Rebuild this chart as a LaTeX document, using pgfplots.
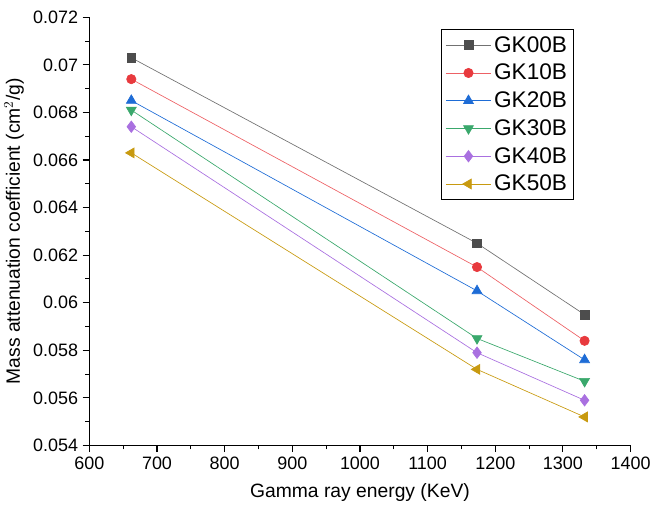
\documentclass[border=0pt]{standalone}
\usepackage{fontspec}
\setmainfont{Liberation Sans}
\usepackage{pgfplots}
\pgfplotsset{compat=1.18}

\definecolor{c0}{RGB}{77,77,77}
\definecolor{c1}{RGB}{232,58,62}
\definecolor{c2}{RGB}{30,108,214}
\definecolor{c3}{RGB}{58,168,108}
\definecolor{c4}{RGB}{169,112,224}
\definecolor{c5}{RGB}{200,154,16}

\begin{document}
\begin{tikzpicture}
\begin{axis}[
  scale only axis,
  width=407pt, height=322pt,
  xmin=600, xmax=1400,
  ymin=0.054, ymax=0.072,
  xtick={600,700,...,1400},
  ytick={0.054,0.056,...,0.072},
  minor tick num=1,
  axis x line=bottom, axis y line=left,
  axis line style={-, line width=1pt},
  tick align=outside,
  major tick length=5pt, minor tick length=3pt,
  every tick/.style={black, line width=0.8pt},
  scaled y ticks=false,
  yticklabel style={/pgf/number format/fixed, /pgf/number format/precision=3},
  xticklabel style={/pgf/number format/1000 sep={}},
  /pgf/number format/assume math mode=true,
  ticklabel style={font=\fontsize{13.5}{16}\selectfont},
  xlabel={Gamma ray energy (KeV)},
  ylabel={Mass attenuation coefficient (cm$^2$/g)},
  label style={font=\fontsize{14.5}{17}\selectfont},
  xlabel style={yshift=-4pt},
  clip=false,
  legend style={at={(0.65,0.972)}, anchor=north west, draw=black, line width=0.6pt,
    font=\fontsize{17}{20}\selectfont, row sep=3.5pt, inner xsep=3pt, inner ysep=3pt},
  legend image code/.code={%
    \draw[#1, mark repeat=2, mark phase=2] plot coordinates {(0pt,0pt) (17pt,0pt) (34pt,0pt)};},
  legend cell align=left,
  every axis plot/.append style={line width=0.5pt},
]
\addplot[c0!80, mark=square*, mark size=3.3pt, mark options={fill=c0, draw=c0}]
  coordinates {(662,0.0703) (1173,0.0625) (1332,0.0595)};
\addplot[c1!80, mark=*, mark size=3.5pt, mark options={fill=c1, draw=c1}]
  coordinates {(662,0.0694) (1173,0.0615) (1332,0.0584)};
\addplot[c2, mark=triangle*, mark size=4.3pt, mark options={fill=c2, draw=c2}]
  coordinates {(662,0.0685) (1173,0.0605) (1332,0.0576)};
\addplot[c3, mark=triangle*, mark size=4.3pt, mark options={fill=c3, draw=c3, rotate=180}]
  coordinates {(662,0.0681) (1173,0.0585) (1332,0.0567)};
\addplot[c4, mark=diamond*, mark size=4.3pt, mark options={fill=c4, draw=c4}]
  coordinates {(662,0.0674) (1173,0.0579) (1332,0.0559)};
\addplot[c5, mark=triangle*, mark size=4.3pt, mark options={fill=c5, draw=c5, rotate=90}]
  coordinates {(662,0.0663) (1173,0.0572) (1332,0.0552)};
\legend{GK00B, GK10B, GK20B, GK30B, GK40B, GK50B}
\end{axis}
\path (current axis.north west) ++(0,13pt);
\path (current axis.south west) ++(0,-58pt);
\end{tikzpicture}
\end{document}
